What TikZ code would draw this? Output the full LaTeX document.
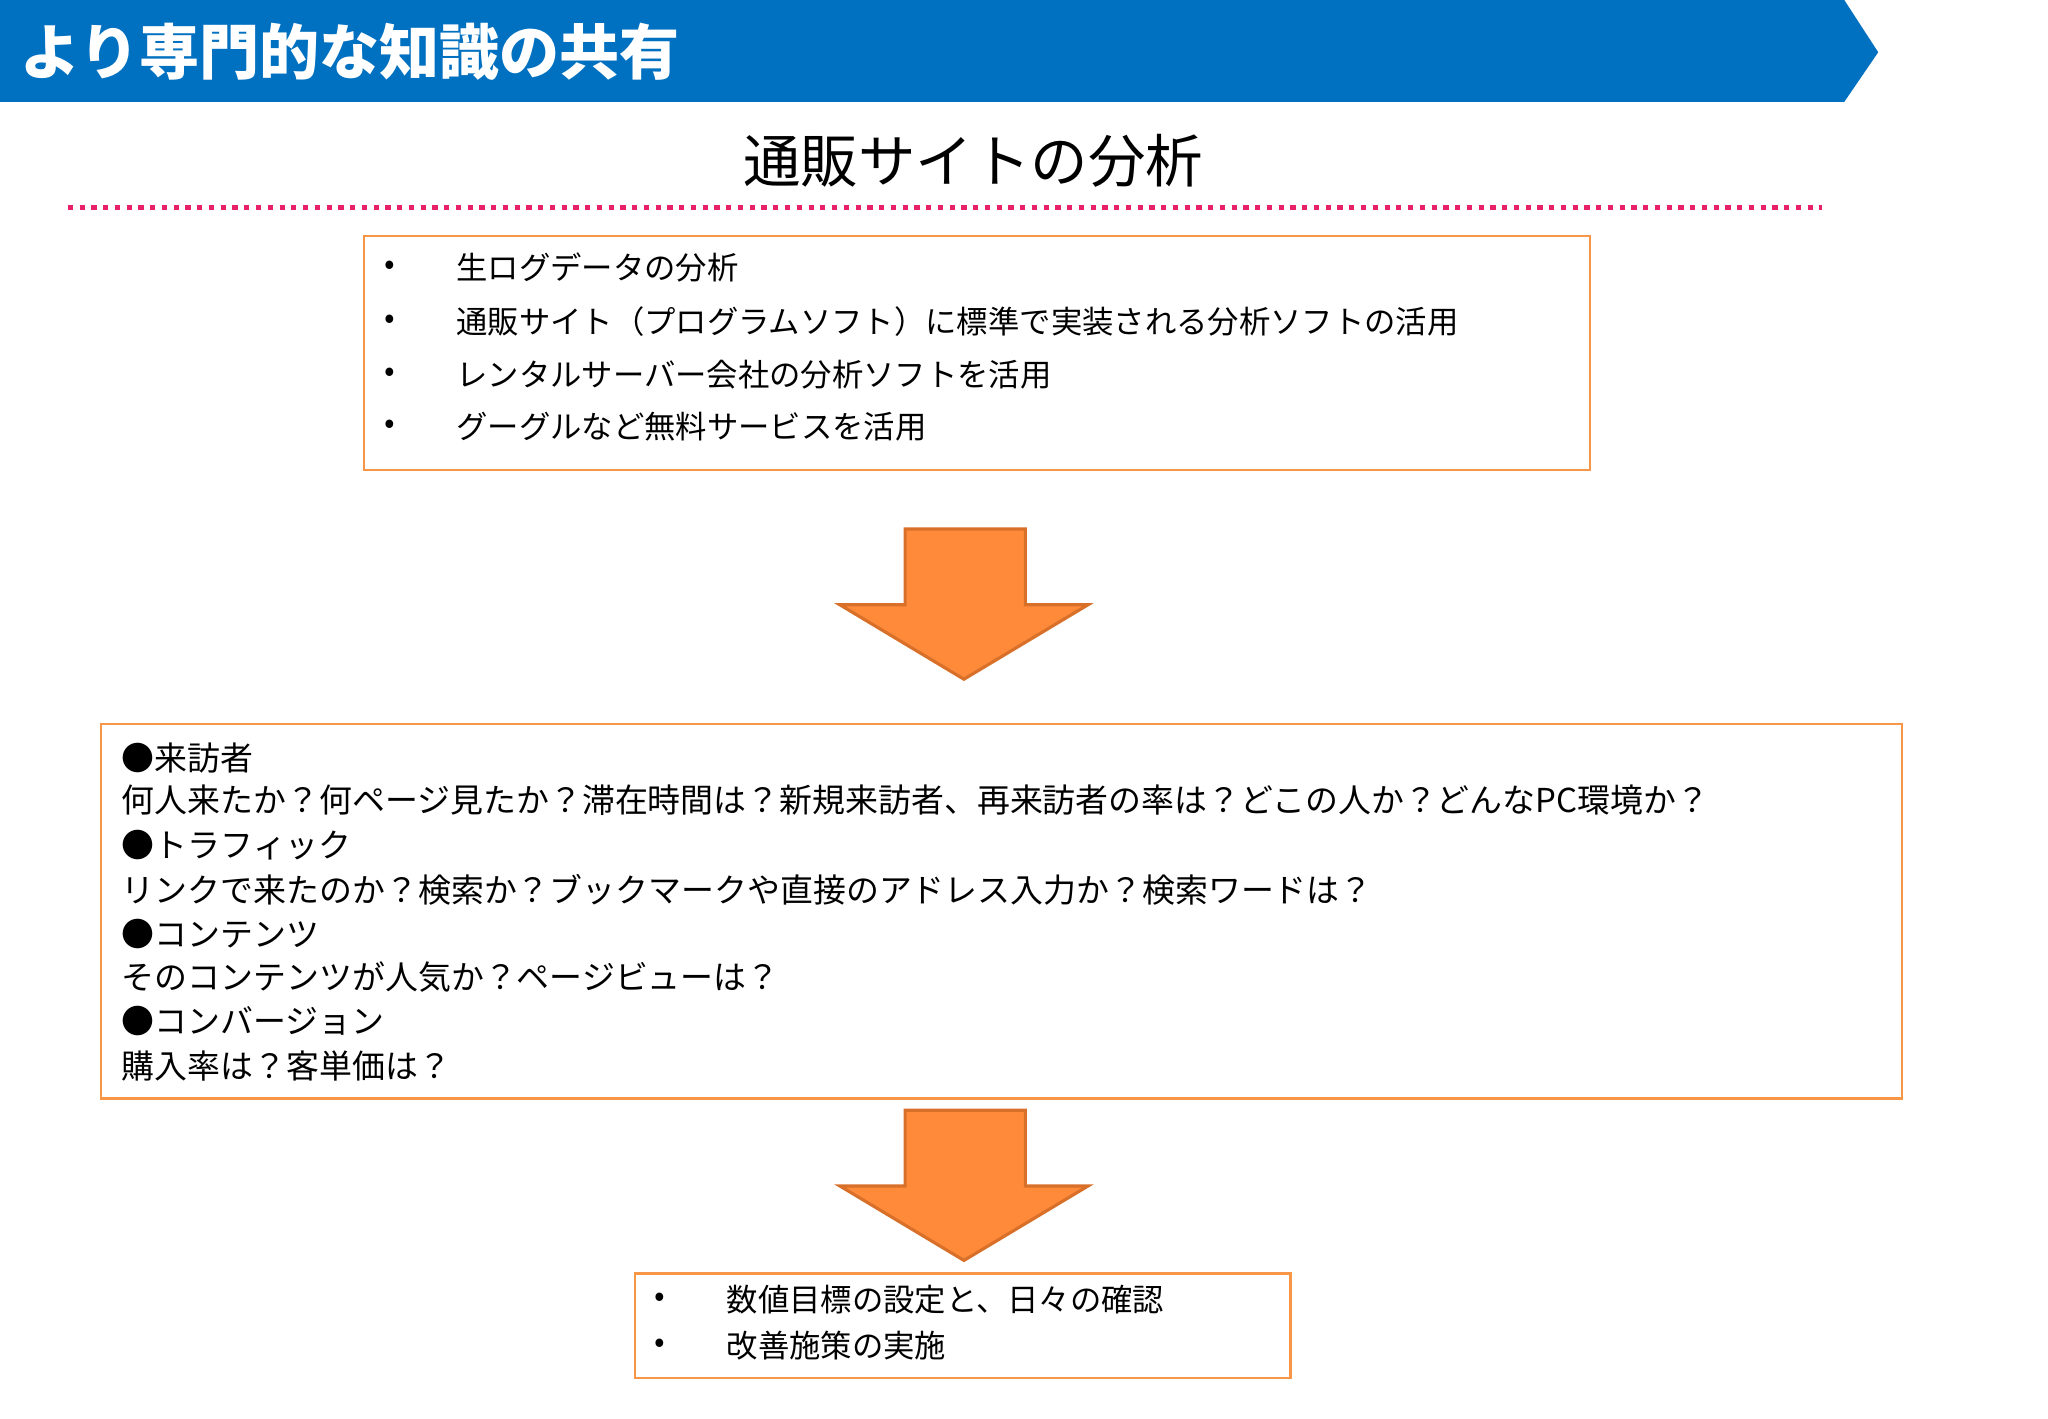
\documentclass[tikz,border=0pt]{standalone}
\usepackage{fontspec}
\setmainfont{Noto Sans CJK JP}
\begin{document}
\begin{tikzpicture}[x=0.5pt,y=-0.5pt,
  box/.style={draw=orangeb,line width=0.8pt},
  txt/.style={anchor=west,inner sep=0pt,font=\fontsize{12}{14}\selectfont},
  txtb/.style={anchor=west,inner sep=0pt,font=\fontsize{12.6}{14}\selectfont},
  arr/.style={fill=orangef,draw=orangeo,line width=1.2pt,line join=miter}]
\definecolor{bannerblue}{HTML}{0070C0}
\definecolor{orangeb}{HTML}{F79646}
\definecolor{orangef}{HTML}{FF8A3A}
\definecolor{orangeo}{HTML}{D9702A}
\definecolor{dotred}{HTML}{E8206A}
\useasboundingbox (0,0) rectangle (1568,1086);
\fill[white] (0,0) rectangle (1568,1086);
\fill[bannerblue] (0,0) -- (1412,0) -- (1438,40) -- (1412,78) -- (0,78) -- cycle;
\node[anchor=west,inner sep=0pt,text=white,font=\fontsize{23}{26}\selectfont\bfseries] (banner) at (15,40) {より専門的な知識の共有};
\node[inner sep=0pt,font=\fontsize{22}{26}\selectfont] (title) at (745,123) {通販サイトの分析};
\coordinate (dl) at (52,159); \coordinate (dr) at (1395,159);
\draw[dotred,line width=2pt,dash pattern=on 2pt off 2.5pt] (dl) -- (dr);
% box 1
\draw[box] (279,181) rectangle (1217,360);
\foreach \y/\t in {205/生ログデータの分析,246/通販サイト（プログラムソフト）に標準で実装される分析ソフトの活用,287/レンタルサーバー会社の分析ソフトを活用,327/グーグルなど無料サービスを活用}{
  \node[txt] at (294,\y) {•};
  \node[txt] at (349,\y) {\t};
}
% arrow 1
\draw[arr] (693,405) -- (785,405) -- (785,463) -- (833,463) -- (738,520) -- (643,463) -- (693,463) -- cycle;
% box 2
\draw[box] (77,554) rectangle (1456,841);
\foreach \y/\t in {580/●来訪者,613/何人来たか？何ページ見たか？滞在時間は？新規来訪者、再来訪者の率は？どこの人か？どんなPC環境か？,647/●トラフィック,681/リンクで来たのか？検索か？ブックマークや直接のアドレス入力か？検索ワードは？,715/●コンテンツ,748/そのコンテンツが人気か？ページビューは？,782/●コンバージョン,816/購入率は？客単価は？}{
  \node[txtb] at (93,\y) {\t};
}
% arrow 2
\draw[arr] (693,850) -- (785,850) -- (785,908) -- (833,908) -- (738,965) -- (643,908) -- (693,908) -- cycle;
% box 3
\draw[box] (486,975) rectangle (988,1055);
\node[txt] at (501,995) {•}; \node[txt] (b1) at (556,995) {数値目標の設定と、日々の確認};
\node[txt] at (501,1030) {•}; \node[txt] (b2) at (556,1030) {改善施策の実施};
\end{tikzpicture}
\end{document}
